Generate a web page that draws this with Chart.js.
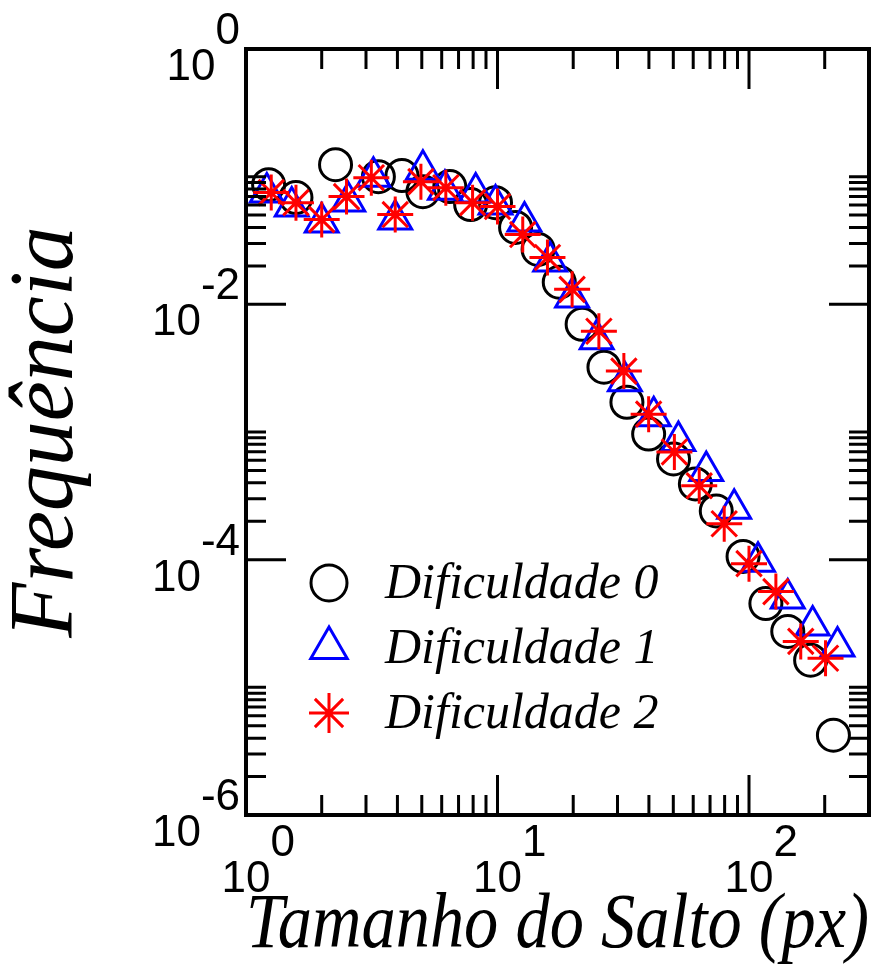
<!DOCTYPE html>
<html lang="pt">
<head>
<meta charset="utf-8">
<title>Frequência x Tamanho do Salto</title>
<script src="https://cdn.jsdelivr.net/npm/chart.js@4.4.0/dist/chart.umd.min.js"></script>
<style>
  html, body { margin: 0; padding: 0; background: #fff; }
  #wrap { width: 891px; height: 970px; }
</style>
</head>
<body>
<div id="wrap"><canvas id="chart"></canvas></div>
<script>
// Dificuldade 0 (open circles)
const dif0X = [1.23, 1.58, 2.27, 3.36, 4.17, 5.05, 6.46, 7.82, 9.82, 11.8, 14.5, 17.6,
               21.7, 26.5, 32.7, 39.9, 50.1, 61.2, 74.1, 94.7, 116.7, 142.6, 175.8, 216.6];
const dif0Y = [0.0866, 0.0686, 0.124, 0.100, 0.102, 0.0763, 0.0836, 0.0604, 0.0626, 0.0400, 0.0269, 0.0149,
               0.00698, 0.00322, 0.00171, 0.000964, 0.000615, 0.000392, 0.000241, 0.000106, 0.0000453, 0.0000274, 0.0000163, 0.00000422];

// Dificuldade 1 (open triangles)
const dif1X = [1.21, 1.52, 2.00, 2.55, 3.21, 3.92, 5.05, 6.18, 8.19, 9.82, 12.8, 16.2,
               19.8, 24.8, 32.1, 41.8, 52.4, 67.6, 87.3, 108.6, 142.6, 179.1, 224.8];
const dif1Y = [0.0750, 0.0583, 0.0437, 0.0638, 0.100, 0.0461, 0.1135, 0.0791, 0.0750, 0.0604, 0.0445, 0.0217,
               0.0113, 0.00533, 0.00250, 0.00133, 0.000851, 0.000496, 0.000250, 0.0000964, 0.0000496, 0.0000305, 0.0000209];

// Dificuldade 2 (asterisks)
const dif2X = [1.26, 1.58, 2.00, 2.51, 3.15, 3.92, 4.96, 6.23, 7.96, 10.0, 12.6, 15.8,
               19.8, 25.3, 31.8, 39.9, 50.5, 63.4, 79.7, 100, 127.9, 160.6, 201.5];
const dif2Y = [0.0750, 0.0626, 0.0461, 0.0698, 0.0982, 0.0505, 0.0914, 0.0820, 0.0626, 0.0583, 0.0352, 0.0233,
               0.0131, 0.00615, 0.00300, 0.00138, 0.000698, 0.000379, 0.000191, 0.0000931, 0.0000562, 0.0000229, 0.0000169];

const seriesNames = ['Dificuldade 0', 'Dificuldade 1', 'Dificuldade 2'];

// tick labels (powers of ten)
const xLabelExps = [0, 1, 2];
const yLabelExps = [0, -2, -4, -6];
const xMinorDecades = [0, 1, 2];
const yMinorDecades = [-2, -4, -6];

function pairs(xs, ys) {
    return xs.map((v, i) => ({ x: v, y: ys[i] }));
}

// inward ticks, frame, superscript tick labels and the legend inside the plot
const framePlugin = {
    id: 'framePlugin',
    afterDatasetsDraw(chart) {
        const { ctx, chartArea: a, scales: { x, y } } = chart;
        ctx.save();
        ctx.strokeStyle = '#000';
        ctx.lineWidth = 3;
        ctx.beginPath();
        function xTick(v, len) {
            const px = x.getPixelForValue(v);
            ctx.moveTo(px, a.bottom); ctx.lineTo(px, a.bottom - len);
            ctx.moveTo(px, a.top); ctx.lineTo(px, a.top + len);
        }
        function yTick(v, len) {
            const py = y.getPixelForValue(v);
            ctx.moveTo(a.left, py); ctx.lineTo(a.left + len, py);
            ctx.moveTo(a.right, py); ctx.lineTo(a.right - len, py);
        }
        xLabelExps.forEach(e => xTick(Math.pow(10, e), 40));
        xMinorDecades.forEach(e => {
            for (let k = 2; k <= 9; k++) {
                const v = k * Math.pow(10, e);
                if (v < x.max) xTick(v, 20);
            }
        });
        yLabelExps.forEach(e => yTick(Math.pow(10, e), 40));
        yMinorDecades.forEach(e => {
            for (let k = 2; k <= 10; k++) yTick(k * Math.pow(10, e), 20);
        });
        ctx.stroke();

        ctx.lineWidth = 4;
        ctx.strokeRect(a.left, a.top, a.right - a.left, a.bottom - a.top);

        // tick labels: "10" with a raised exponent of the same size
        ctx.fillStyle = '#000';
        ctx.font = '44px "Liberation Sans", Arial, sans-serif';
        ctx.textBaseline = 'alphabetic';
        const w10 = ctx.measureText('10').width;
        xLabelExps.forEach(e => {
            const px = x.getPixelForValue(Math.pow(10, e));
            ctx.textAlign = 'left';
            ctx.fillText('10', px - w10 / 2, a.bottom + 77);
            ctx.fillText(String(e), px + w10 / 2, a.bottom + 41);
        });
        yLabelExps.forEach(e => {
            const py = y.getPixelForValue(Math.pow(10, e));
            const es = String(e);
            const we = ctx.measureText(es).width;
            const right = a.left - 6;
            ctx.textAlign = 'right';
            ctx.fillText(es, right, py - 5);
            ctx.fillText('10', right - we, py + 31);
        });

        // legend
        const sets = chart.data.datasets;
        const legendSizes = [18, 21, 20];
        ctx.font = 'italic 50px "Liberation Serif", "Times New Roman", serif';
        ctx.textAlign = 'left';
        seriesNames.forEach((name, i) => {
            const ds = sets[i];
            const rowY = 583 + i * 65;
            ctx.strokeStyle = ds.pointBorderColor;
            ctx.fillStyle = 'rgba(0,0,0,0)';
            ctx.lineWidth = 3;
            Chart.helpers.drawPoint(ctx, {
                pointStyle: ds.pointStyle, rotation: 0,
                radius: legendSizes[i], borderWidth: 3
            }, 329, rowY);
            ctx.fillStyle = '#000';
            ctx.fillText(name, 385, rowY + 15);
        });
        ctx.restore();
    }
};

const ctx = document.getElementById('chart').getContext('2d');
const chart = new Chart(ctx, {
    type: 'scatter',
    data: {
        datasets: [{
            label: seriesNames[0],
            data: pairs(dif0X, dif0Y),
            pointStyle: 'circle',
            pointRadius: 16,
            pointBorderWidth: 3,
            pointBorderColor: '#000000',
            pointBackgroundColor: 'rgba(0,0,0,0)',
            order: 3
        }, {
            label: seriesNames[1],
            data: pairs(dif1X, dif1Y),
            pointStyle: 'triangle',
            pointRadius: 19,
            pointBorderWidth: 3,
            pointBorderColor: '#0000ff',
            pointBackgroundColor: 'rgba(0,0,0,0)',
            order: 2
        }, {
            label: seriesNames[2],
            data: pairs(dif2X, dif2Y),
            pointStyle: 'star',
            pointRadius: 18,
            pointBorderWidth: 3,
            pointBorderColor: '#ff0000',
            pointBackgroundColor: 'rgba(0,0,0,0)',
            order: 1
        }]
    },
    options: {
        responsive: true,
        maintainAspectRatio: false,
        animation: false,
        layout: { padding: { top: 49, right: 19, left: 0, bottom: 0 } },
        plugins: {
            legend: { display: false },
            tooltip: { enabled: false }
        },
        scales: {
            x: {
                type: 'logarithmic',
                min: 1,
                max: 300,
                grid: { display: false, drawTicks: false, tickLength: 0 },
                border: { display: false },
                ticks: { display: false },
                afterFit(scale) { scale.height = 155; },
                title: {
                    display: true,
                    text: 'Tamanho do Salto (px)',
                    color: '#000',
                    font: { family: '"Liberation Serif", "Times New Roman", serif', style: 'italic', size: 79, lineHeight: 1 },
                    padding: { top: 72, bottom: 4 }
                }
            },
            y: {
                type: 'logarithmic',
                min: 1e-6,
                max: 1,
                grid: { display: false, drawTicks: false, tickLength: 0 },
                border: { display: false },
                ticks: { display: false },
                afterFit(scale) { scale.width = 246; },
                title: {
                    display: true,
                    text: 'Frequência',
                    color: '#000',
                    font: { family: '"Liberation Serif", "Times New Roman", serif', style: 'italic', size: 90, lineHeight: 1 },
                    padding: { top: 3, bottom: 153 }
                }
            }
        }
    },
    plugins: [framePlugin]
});
</script>
</body>
</html>
